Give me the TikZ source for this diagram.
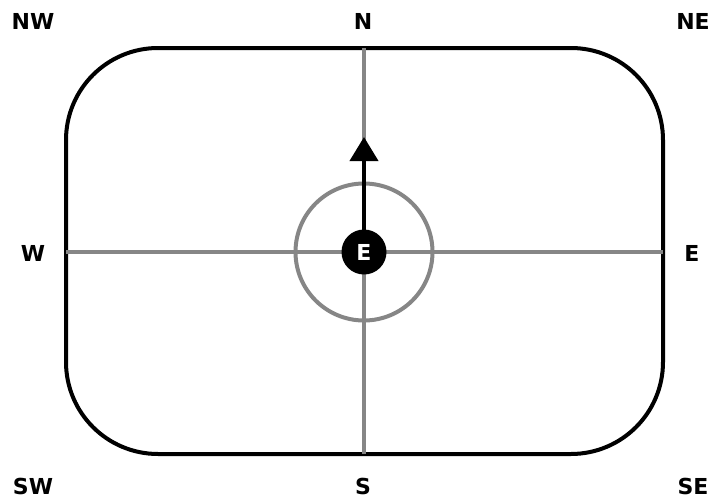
\documentclass[tikz,border=0pt]{standalone}
\usepackage{fontspec}
\setmainfont{DejaVu Sans}
\usepackage{tikz}
\usetikzlibrary{arrows.meta,positioning}

\begin{document}
\begin{tikzpicture}[
  x=1pt, y=-1pt,
  lbl/.style={font=\fontsize{22}{22}\selectfont\bfseries, inner sep=0pt},
  frame/.style={draw=black, line width=4pt, rounded corners=92pt},
  axis/.style={draw=gray!95, line width=4pt},
  arr/.style={-{Triangle[length=24pt,width=28pt]}, line width=4pt}
]
\useasboundingbox (0,0) rectangle (710,498);

\coordinate (c) at (364,252);
\coordinate (top) at (364,48);
\coordinate (bot) at (364,454);
\coordinate (lft) at (66,252);
\coordinate (rgt) at (663,252);
\coordinate (tip) at (364,137);

\draw[frame] (66,48) rectangle (663,454);
\draw[axis] (top) -- (bot);
\draw[axis] (lft) -- (rgt);
\draw[axis] (c) circle (68.5pt);

\node[lbl] (nw) at (33,21) {NW};
\node[lbl] (n) at (363,21) {N};
\node[lbl] (ne) at (693,21) {NE};
\node[lbl] (w) at (33,253) {W};
\node[lbl] (e) at (692,253) {E};
\node[lbl] (sw) at (33,486) {SW};
\node[lbl] (s) at (363,486) {S};
\node[lbl] (se) at (693,486) {SE};

\draw[arr] (c) -- (tip);
\node[circle, fill=black, minimum size=45pt, inner sep=0pt, text=white, font=\fontsize{22}{22}\selectfont\bfseries] (ego) at (c) {E};
\end{tikzpicture}
\end{document}
